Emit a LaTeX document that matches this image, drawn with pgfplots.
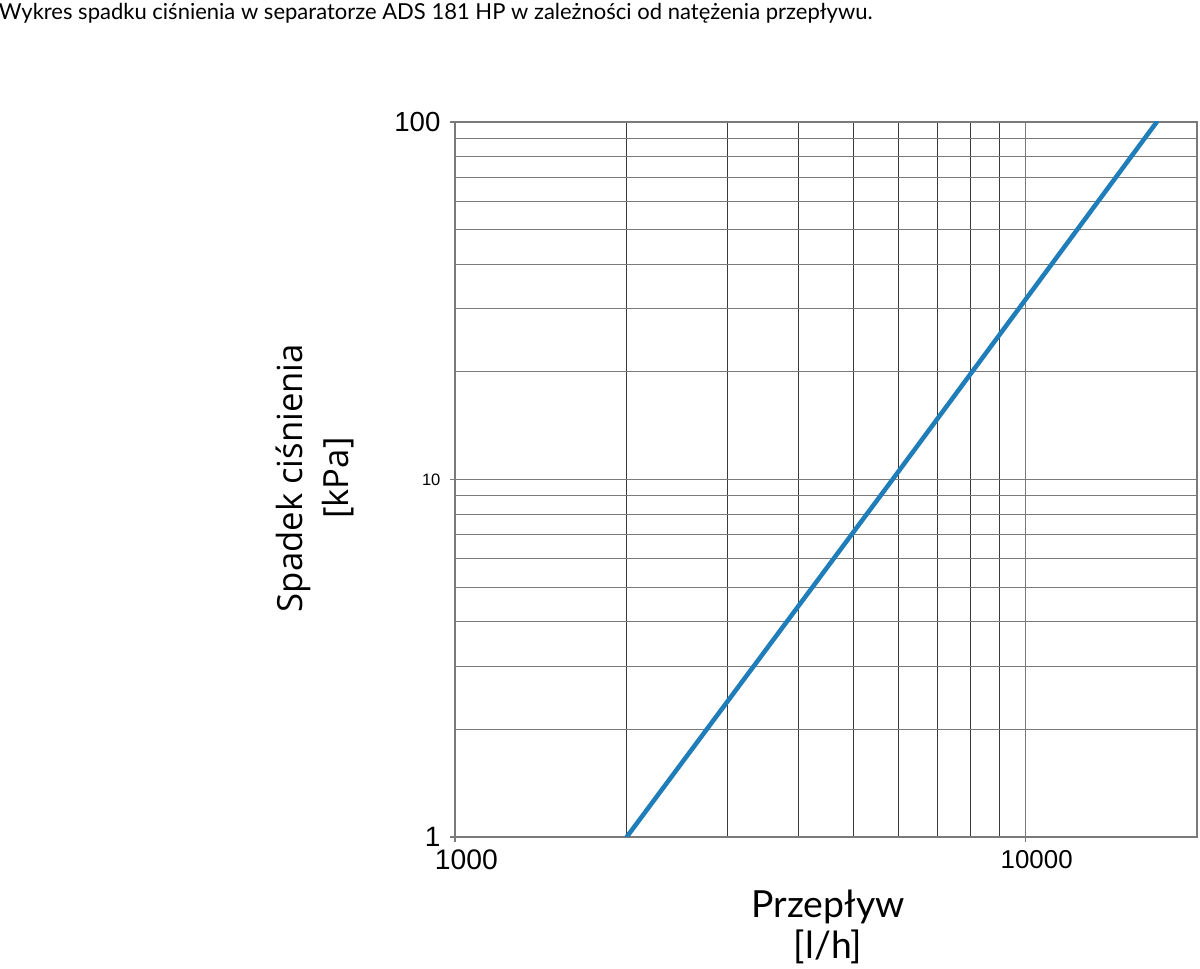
\documentclass[border=0pt]{standalone}
\usepackage{fontspec}
\usepackage{pgfplots}
\pgfplotsset{compat=1.18}
\setmainfont{Lato}
\newfontfamily\tickfont{Liberation Sans}
\newfontfamily\ylabfont{Open Sans}
\newfontfamily\latofont{Lato}
\definecolor{lineblue}{HTML}{1F7DBA}
\definecolor{gridgray}{HTML}{7A7A7A}
\definecolor{griddark}{HTML}{3A3A3A}
\begin{document}
\begin{tikzpicture}
\path[use as bounding box] (0pt,0pt) rectangle (900pt,726.75pt);
\node[anchor=base west, inner sep=0pt, font=\latofont\fontsize{16.5}{19}\selectfont] at (-1pt,711.75pt)
  {Wykres spadku ciśnienia w separatorze ADS 181 HP w zależności od natężenia przepływu.};
\begin{axis}[
  at={(341.25pt,99pt)}, anchor=south west,
  scale only axis, width=556.5pt, height=536.25pt,
  xmode=log, ymode=log,
  xmin=1000, xmax=20000, ymin=1, ymax=100,
  xtick={1000,10000},
  xticklabels={{\fontsize{21.2}{24}\selectfont 1000},{\fontsize{19.4}{22}\selectfont 10000}},
  ytick={1,10,100},
  yticklabels={{\fontsize{21}{24}\selectfont 1},{\fontsize{12.4}{14}\selectfont 10},{\fontsize{20.7}{24}\selectfont 100}},
  minor xtick={2000,3000,4000,5000,6000,7000,8000,9000},
  minor ytick={2,3,4,5,6,7,8,9,20,30,40,50,60,70,80,90},
  grid=both,
  major grid style={gridgray, line width=0.8pt},
  minor grid style={gridgray, line width=0.8pt},
  minor x grid style={griddark, line width=0.7pt},
  axis line style={gridgray, line width=1pt},
  tick align=outside,
  major tick length=3.75pt,
  minor tick length=0pt,
  tick style={gridgray, line width=0.9pt},
  xtick pos=bottom, ytick pos=left,
  ticklabel style={font=\tickfont},
  yticklabel style={anchor=east, inner sep=0pt, xshift=-7pt},
  xticklabel style={anchor=north, inner sep=0pt, yshift=-6pt, xshift=8.5pt},
  xlabel={Przepływ\\{[l/h]}},
  xlabel style={font=\latofont\fontsize{28}{30.75}\selectfont, align=center, at={(rel axis cs:0.5027,-0.126)}, anchor=center, inner sep=0pt},
  ylabel={Spadek ciśnienia\\{[kPa]}},
  ylabel style={font=\ylabfont\fontsize{26}{34.5}\selectfont, align=center, at={(rel axis cs:-0.1887,0.502)}, anchor=center, inner sep=0pt},
]
\addplot[lineblue, line width=3.4pt, line cap=round] coordinates {(2000,1) (5850,10) (17000,100)};
\end{axis}
\end{tikzpicture}
\end{document}
